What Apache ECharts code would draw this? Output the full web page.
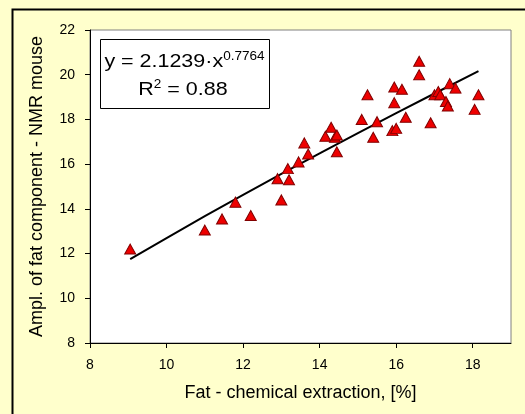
<!DOCTYPE html>
<html>
<head>
<meta charset="utf-8">
<script src="https://cdn.jsdelivr.net/npm/echarts@6/dist/echarts.min.js"></script>
<style>
  html, body { margin: 0; padding: 0; background: #ffffcc; }
  #chart { width: 525px; height: 414px; }
</style>
</head>
<body>
<div id="chart"></div>
<script>
// measured points: fat by chemical extraction (%) vs NMR fat amplitude
const fatChem = [
  9.05, 11.0, 11.45, 11.8, 12.2, 12.9, 13.0, 13.2, 13.17, 13.45,
  13.7, 13.6, 14.15, 14.3, 14.4, 14.45, 14.45, 15.1, 15.25, 15.4,
  15.5, 15.9, 16.0, 15.95, 15.95, 16.15, 16.25, 16.6, 16.6, 16.9,
  17.0, 17.1, 17.15, 17.3, 17.35, 17.4, 17.55, 18.05, 18.15
]
const nmrAmpl = [
  12.2, 13.05, 13.55, 14.3, 13.7, 15.35, 14.4, 15.3, 15.8, 16.1,
  16.45, 16.95, 17.25, 17.65, 17.2, 17.3, 16.55, 18.0, 19.1, 17.2,
  17.9, 17.5, 17.6, 18.75, 19.45, 19.35, 18.1, 20.6, 20.0, 17.85,
  19.1, 19.25, 19.1, 18.8, 18.6, 19.6, 19.4, 18.45, 19.1
]

// power trend line
const fitX = [9.05, 10, 11, 12, 13, 14, 15, 16, 17, 18.15]
const fitY = [11.75, 12.69, 13.67, 14.62, 15.56, 16.48, 17.39, 18.28, 19.16, 20.16]

const xTicks = [8, 10, 12, 14, 16, 18]
const yTicks = [8, 10, 12, 14, 16, 18, 20, 22]

const chart = echarts.init(document.getElementById('chart'))

const fontFamily = 'Liberation Sans, Arial, sans-serif'

// equation text in the box is a bit wider than plain Arial
const eqRich = {
  a: { fontSize: 19, fontFamily: fontFamily, fill: '#000', lineHeight: 22 },
  s: { fontSize: 12, fontFamily: fontFamily, fill: '#000', verticalAlign: 'top' }
}

const option = {
  backgroundColor: '#ffffcc',
  animation: false,
  textStyle: { fontFamily: fontFamily, color: '#000' },
  grid: {
    left: 90,
    top: 30,
    right: 14,
    bottom: 71,
    show: true,
    backgroundColor: '#ffffff',
    borderColor: '#808080',
    borderWidth: 1
  },
  xAxis: {
    type: 'value',
    min: 8,
    max: 19,
    interval: 2,
    name: 'Fat - chemical extraction, [%]',
    nameLocation: 'middle',
    nameGap: 41,
    nameTextStyle: { fontSize: 18, color: '#000', fontFamily: fontFamily },
    axisLine: { show: true, onZero: false, lineStyle: { color: '#000', width: 1 } },
    axisTick: { show: true, length: 5, customValues: xTicks, lineStyle: { color: '#000' } },
    axisLabel: { customValues: xTicks, fontSize: 14, color: '#000', margin: 15, fontFamily: fontFamily },
    splitLine: { show: false }
  },
  yAxis: {
    type: 'value',
    min: 8,
    max: 22,
    interval: 2,
    name: 'Ampl. of fat component - NMR mouse',
    nameLocation: 'middle',
    nameGap: 44,
    nameTextStyle: { fontSize: 18, color: '#000', fontFamily: fontFamily },
    axisLine: { show: true, onZero: false, lineStyle: { color: '#000', width: 1 } },
    axisTick: { show: true, length: 5, customValues: yTicks, lineStyle: { color: '#000' } },
    axisLabel: { customValues: yTicks, fontSize: 14, color: '#000', margin: 15, fontFamily: fontFamily },
    splitLine: { show: false }
  },
  graphic: [
    {
      type: 'rect',
      left: 10,
      top: 7,
      shape: { width: 540, height: 440 },
      style: { fill: 'none', stroke: '#000', lineWidth: 2 },
      silent: true
    },
    {
      type: 'rect',
      left: 100,
      top: 39,
      shape: { width: 169, height: 69 },
      style: { fill: '#fff', stroke: '#000', lineWidth: 1 },
      z: 10
    },
    {
      type: 'text',
      x: 184.5,
      y: 62,
      scaleX: 1.13,
      z: 11,
      style: {
        text: '{a|y = 2.1239·x}{s|0.7764}',
        align: 'center',
        verticalAlign: 'middle',
        rich: eqRich
      }
    },
    {
      type: 'text',
      x: 183,
      y: 90,
      scaleX: 1.13,
      z: 11,
      style: {
        text: '{a|R}{s|2}{a| = 0.88}',
        align: 'center',
        verticalAlign: 'middle',
        rich: eqRich
      }
    }
  ],
  series: [
    {
      name: 'trend',
      type: 'line',
      data: fitX.map((x, i) => [x, fitY[i]]),
      showSymbol: false,
      symbol: 'none',
      smooth: false,
      lineStyle: { color: '#000', width: 2 },
      z: 2
    },
    {
      name: 'data',
      type: 'scatter',
      data: fatChem.map((x, i) => [x, nmrAmpl[i]]),
      symbol: 'triangle',
      symbolSize: [11, 10],
      itemStyle: { color: '#ee0000', borderColor: '#800000', borderWidth: 1, opacity: 1 },
      z: 3
    }
  ]
}

chart.setOption(option)
</script>
</body>
</html>
